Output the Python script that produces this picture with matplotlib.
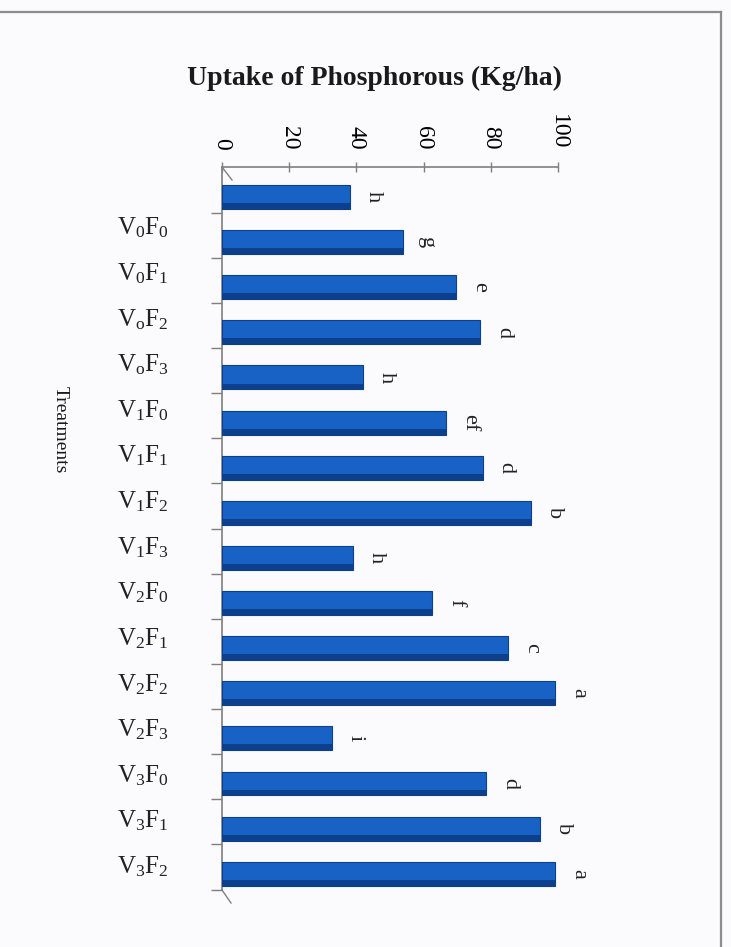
import matplotlib
matplotlib.use("Agg")
import matplotlib.pyplot as plt
import matplotlib.transforms as mtransforms
from matplotlib.lines import Line2D

OUTPUT_FILE = "out.png"

# values (16 bars, 15 treatment labels as printed)
uptake = [38.1, 53.8, 69.6, 76.8, 41.9, 66.7, 77.6, 91.9,
          38.9, 62.6, 85.2, 99.1, 32.6, 78.6, 94.6, 99.1]
letters = ["h", "g", "e", "d", "h", "ef", "d", "b",
           "h", "f", "c", "a", "i", "d", "b", "a"]
treatments = [r"$\mathrm{V_0F_0}$", r"$\mathrm{V_0F_1}$", r"$\mathrm{V_oF_2}$", r"$\mathrm{V_oF_3}$",
              r"$\mathrm{V_1F_0}$", r"$\mathrm{V_1F_1}$", r"$\mathrm{V_1F_2}$", r"$\mathrm{V_1F_3}$",
              r"$\mathrm{V_2F_0}$", r"$\mathrm{V_2F_1}$", r"$\mathrm{V_2F_2}$", r"$\mathrm{V_2F_3}$",
              r"$\mathrm{V_3F_0}$", r"$\mathrm{V_3F_1}$", r"$\mathrm{V_3F_2}$"]
value_ticks = [0, 20, 40, 60, 80, 100]

BAR_COLOR = "#1862c6"
BAR_DARK = "#0c3f8c"
AXIS_COLOR = "#7f7f7f"
BG = "#fbfbfd"

plt.rcParams["font.family"] = ["Liberation Serif", "DejaVu Serif"]
plt.rcParams["mathtext.fontset"] = "custom"
plt.rcParams["mathtext.rm"] = "Liberation Serif"
plt.rcParams["mathtext.it"] = "Liberation Serif:italic"


def make_chart():
    fig = plt.figure(figsize=(7.31, 9.47), dpi=100, facecolor=BG)
    ax = fig.add_axes([0.3037, 0.0602, 0.4596, 0.7635])
    ax.set_facecolor(BG)

    pos = list(range(len(uptake)))
    ax.barh(pos, uptake, height=0.53, color=BAR_COLOR, edgecolor=BAR_DARK, linewidth=0.8, zorder=3)
    # darker lower face to mimic the 3D look
    ax.barh([p + 0.2 for p in pos], uptake, height=0.13, color=BAR_DARK, linewidth=0, zorder=4)

    ax.set_xlim(0, 100)
    ax.set_ylim(15.36, -0.665)

    # value axis on top, labels turned
    ax.xaxis.tick_top()
    ax.set_xticks(value_ticks)
    ax.set_xticklabels([str(v) for v in value_ticks], rotation=-90, fontsize=17)
    ax.tick_params(axis="x", direction="inout", length=7, width=1, color=AXIS_COLOR, pad=9)

    # category ticks sit between bars
    ax.set_yticks([p + 0.35 for p in pos])
    ax.set_yticklabels([])
    ax.tick_params(axis="y", direction="out", length=8, width=1, color=AXIS_COLOR)

    for side in ["right", "bottom"]:
        ax.spines[side].set_visible(False)
    for side in ["left", "top"]:
        ax.spines[side].set_color(AXIS_COLOR)
        ax.spines[side].set_linewidth(1.2)

    # letters of significance next to each bar
    for p, v, lab in zip(pos, uptake, letters):
        ax.annotate(lab, (v, p), xytext=(10, 0), textcoords="offset points",
                    rotation=-90, ha="left", va="center", fontsize=16, color="#222222")

    # treatment names
    trans = mtransforms.blended_transform_factory(ax.transAxes, ax.transData)
    for i, name in enumerate(treatments):
        ax.text(-0.235, 0.69 + i * 1.011, name, transform=trans,
                ha="center", va="center", fontsize=18, color="#222222")

    fig.text(375 / 731, 1 - 78 / 947, "Uptake of Phosphorous (Kg/ha)",
             ha="center", va="center", fontsize=20, fontweight="bold", color="#1a1a1a")
    fig.text(60 / 731, 1 - 430 / 947, "Treatments", rotation=-90,
             ha="center", va="center", fontsize=14, color="#1a1a1a")

    # small 3D floor edges at both ends of the category axis
    fig.add_artist(Line2D([222 / 731, 232 / 731], [1 - 167 / 947, 1 - 180 / 947],
                          transform=fig.transFigure, color=AXIS_COLOR, linewidth=1))
    fig.add_artist(Line2D([222 / 731, 231 / 731], [1 - 890 / 947, 1 - 903 / 947],
                          transform=fig.transFigure, color=AXIS_COLOR, linewidth=1))

    # frame lines around the chart area
    fig.add_artist(Line2D([0, 721 / 731], [1 - 12 / 947, 1 - 12 / 947],
                          transform=fig.transFigure, color="#8c8c8c", linewidth=1.6))
    fig.add_artist(Line2D([721 / 731, 721 / 731], [1 - 12 / 947, 0],
                          transform=fig.transFigure, color="#8c8c8c", linewidth=1.6))

    fig.savefig(OUTPUT_FILE, dpi=100, facecolor=BG)
    plt.close(fig)


if __name__ == "__main__":
    make_chart()
